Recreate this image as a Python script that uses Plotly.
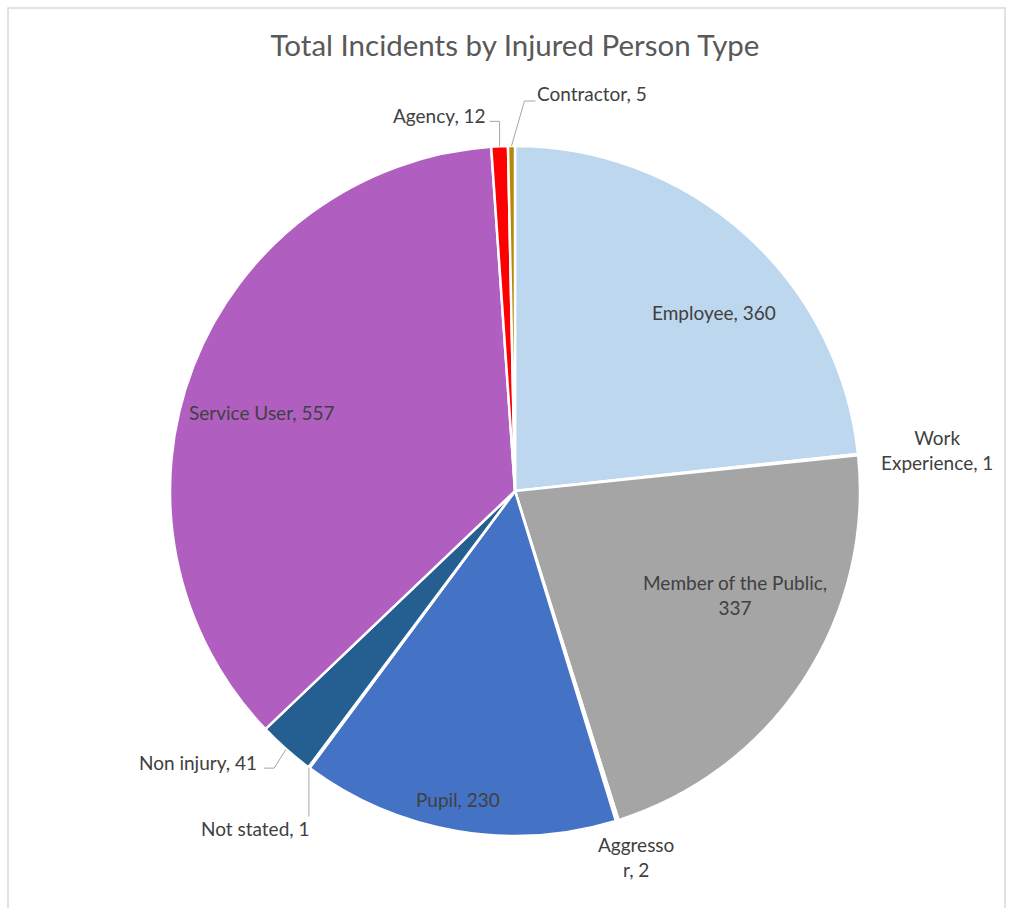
import math
import plotly.graph_objects as go

categories = ["Employee", "Work Experience", "Member of the Public", "Aggressor", "Pupil",
              "Not stated", "Non injury", "Service User", "Agency", "Contractor"]
values = [360, 1, 337, 2, 230, 1, 41, 557, 12, 5]
label_texts = ["Employee, 360", "Work<br>Experience, 1", "Member of the Public,<br>337",
               "Aggresso<br>r, 2", "Pupil, 230", "Not stated, 1", "Non injury, 41",
               "Service User, 557", "Agency, 12", "Contractor, 5"]
colors = ["#BDD7EE", "#FFFFFF", "#A5A5A5", "#FFFFFF", "#4472C4",
          "#FFFFFF", "#255E91", "#B05FC0", "#FF0000", "#B8860B"]

# label placement style: (kind, a, b, leader elbow points relative to the slice edge, px)
#  inside : placed at 0.75 r on the slice mid-angle, shifted by (a, b) px (b downwards)
#  outside: text centred at (a, b) px from the slice edge point on the mid-angle
label_style = {
    "Employee": ("inside", 26, 14, None),
    "Member of the Public": ("inside", 4, -38, None),
    "Pupil": ("inside", -13, 54, None),
    "Service User": ("inside", -12, 15, None),
    "Work Experience": ("outside", 79, -5, None),
    "Aggressor": ("outside", 19, 36, None),
    "Not stated": ("outside", -54, 61, [(0, 49)]),
    "Non injury": ("outside", -88, 13, [(-12, 19), (-22, 19)]),
    "Agency": ("outside", -60, -31, [(0, -25), (-10, -25)]),
    "Contractor": ("outside", 81, -53, [(13, -45), (24, -45)]),
}

W, H = 1011, 908
cx_px, cy_px, r_px = 515, 491, 345
font_family = "Lato, 'Open Sans', sans-serif"
lab_font = dict(color="#404040", size=19, family=font_family)

fig = go.Figure(go.Pie(
    labels=categories, values=values, sort=False, direction="clockwise", rotation=0,
    marker=dict(colors=colors, line=dict(color="white", width=2.5)),
    textinfo="none",
    domain=dict(x=[(cx_px - r_px) / W, (cx_px + r_px) / W],
                y=[1 - (cy_px + r_px) / H, 1 - (cy_px - r_px) / H]),
    showlegend=False, hoverinfo="label+value",
))


def to_paper(px, py):
    return px / W, 1 - py / H


total = sum(values)
cum = 0.0
annotations = []
shapes = [dict(type="rect", xref="paper", yref="paper",
               x0=8 / W, x1=1005 / W, y0=-0.02, y1=1 - 8 / H,
               line=dict(color="#D9D9D9", width=1.5), fillcolor="rgba(0,0,0,0)")]
for c, v, txt in zip(categories, values, label_texts):
    mid = (cum + v / 2) / total * 2 * math.pi
    cum += v
    kind, a, b, leader = label_style[c]
    rf = 0.75 if kind == "inside" else 1.0
    px = cx_px + rf * r_px * math.sin(mid)
    py = cy_px - rf * r_px * math.cos(mid)
    tx, ty = to_paper(px + a, py + b)
    annotations.append(dict(x=tx, y=ty, xref="paper", yref="paper", text=txt,
                            showarrow=False, xanchor="center", yanchor="middle",
                            font=lab_font))
    if leader:
        pts = [(px, py)] + [(px + dx, py + dy) for dx, dy in leader]
        path = " ".join(("M" if i == 0 else "L") + "{:.5f},{:.5f}".format(*to_paper(x, y))
                        for i, (x, y) in enumerate(pts))
        shapes.append(dict(type="path", xref="paper", yref="paper", path=path,
                           line=dict(color="#A6A6A6", width=1)))

fig.update_layout(
    width=W, height=H, margin=dict(l=0, r=0, t=0, b=0),
    paper_bgcolor="white", plot_bgcolor="white",
    title=dict(text="Total Incidents by Injured Person Type", x=515 / W, xanchor="center",
               y=1 - 46 / H, yanchor="middle",
               font=dict(size=29.5, color="#595959", family=font_family)),
    annotations=annotations,
    shapes=shapes,
)

fig.write_html("out.html", config={"displayModeBar": False},
               post_script="document.body.style.margin='0px';")
